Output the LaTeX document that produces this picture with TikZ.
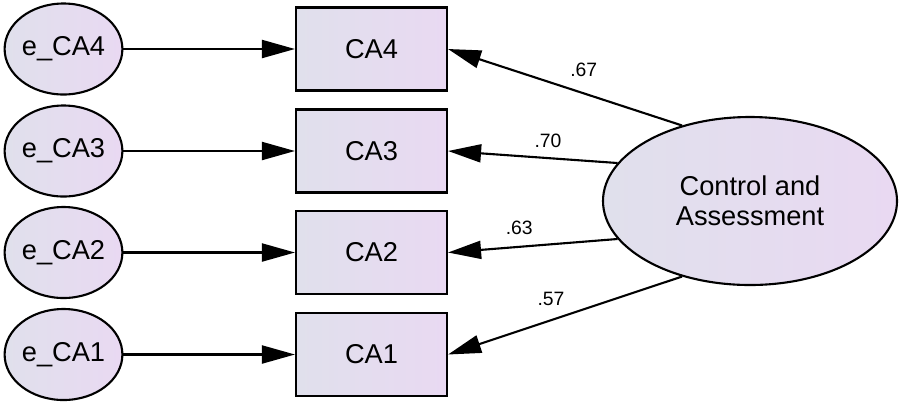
\documentclass[tikz,border=0pt]{standalone}
\usepackage{fontspec}
\setmainfont{Liberation Sans}
\usetikzlibrary{shapes.geometric,arrows.meta}
\definecolor{amosleft}{RGB}{224,224,236}
\definecolor{amosright}{RGB}{233,217,242}

\begin{document}
\begin{tikzpicture}[x=0.2mm,y=-0.2mm]
            \useasboundingbox (0,0) rectangle (901,404);
            \begin{scope}[every node/.style={draw=black,line width=1.2pt,left color=amosleft,right color=amosright,inner sep=0pt,font=\fontsize{15.5}{17}\selectfont}]
                \node[ellipse,minimum width=20.2mm,minimum height=18.2mm] (e4) at (63.5,49) {e\_CA4};
                \node[ellipse,minimum width=20.2mm,minimum height=18.2mm] (e3) at (63.5,151) {e\_CA3};
                \node[ellipse,minimum width=20.2mm,minimum height=18.2mm] (e2) at (63.5,252.5) {e\_CA2};
                \node[ellipse,minimum width=20.2mm,minimum height=18.2mm] (e1) at (63.5,354.5) {e\_CA1};

                \node[minimum width=30.2mm,minimum height=16.6mm] (CA4) at (371.5,49) {CA4};
                \node[minimum width=30.2mm,minimum height=16.6mm] (CA3) at (371.5,151) {CA3};
                \node[minimum width=30.2mm,minimum height=16.6mm] (CA2) at (371.5,252.5) {CA2};
                \node[minimum width=30.2mm,minimum height=16.6mm] (CA1) at (371.5,354.5) {CA1};

                \node[ellipse,align=center,minimum width=58.8mm,minimum height=33.6mm] (F) at (750,201) {Control and\\Assessment};
            \end{scope}
            \begin{scope}[every edge/.style={draw,line width=1.2pt,-{Triangle[length=6.6mm,width=3.6mm]}},
                          every node/.style={inner sep=0pt,font=\fontsize{11}{13}\selectfont}]
                \path (e4) edge (CA4);
                \path (e3) edge (CA3);
                \path (e2) edge (CA2);
                \path (e1) edge (CA1);

                \path (F.132) edge node[pos=0.42,yshift=4.8mm] {.67} (CA4.east);
                \path (F.164.5) edge node[pos=0.41,yshift=3.5mm] {.70} (CA3.east);
                \path (F.196) edge node[pos=0.58,yshift=3.8mm] {.63} (CA2.east);
                \path (F.228.6) edge node[pos=0.56,yshift=4.2mm] {.57} (CA1.east);
            \end{scope}
        \end{tikzpicture}
\end{document}
